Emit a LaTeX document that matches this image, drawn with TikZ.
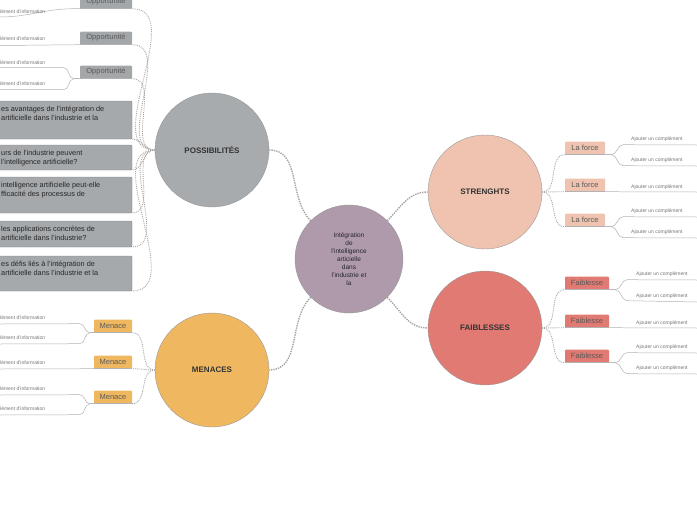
\documentclass[tikz,border=0pt]{standalone}
\usepackage{fontspec}
\setmainfont{Liberation Sans}
\begin{document}
\begin{tikzpicture}[x=1pt,y=-1pt,
 circ/.style={circle,draw=gray!80,minimum size=114pt,inner sep=0pt,font=\bfseries\fontsize{8}{9}\selectfont,text=black!80},
 tag/.style={rounded corners=1pt,inner sep=2pt,font=\fontsize{7.5}{8}\selectfont,text=black!65,minimum height=13pt},
 ajt/.style={font=\fontsize{5}{6}\selectfont,text=black!55,inner sep=1pt},
 qtxt/.style={font=\fontsize{7.3}{9}\selectfont,text=black!85,align=left,anchor=north west,inner sep=0pt},
 con/.style={draw=gray!70,densely dotted,line width=1.4pt},
 ln/.style={draw=gray!60,line width=0.5pt}]
\definecolor{cgray}{HTML}{A7ABAE}\definecolor{cmen}{HTML}{EFB860}
\definecolor{cstr}{HTML}{EFC3B0}\definecolor{cfai}{HTML}{E07A72}
\definecolor{ccen}{HTML}{AE9AAB}\definecolor{ctag}{HTML}{A3A7AA}
\definecolor{cq}{HTML}{A5A9AC}
\useasboundingbox (0,0) rectangle (697,520);
\clip (0,0) rectangle (697,520);
\node[circ,fill=ccen,minimum size=108pt,font=\fontsize{6.5}{8}\selectfont,align=center,text=black!85] (c) at (349,259) {Intégration\\de\\l'intelligence\\articielle\\dans\\l'industrie et\\la};
\node[circ,fill=cgray] (p) at (212,150) {POSSIBILITÉS};
\node[circ,fill=cmen] (m) at (212,370) {MENACES};
\node[circ,fill=cstr] (s) at (485,192) {STRENGHTS};
\node[circ,fill=cfai] (f) at (485,328) {FAIBLESSES};
\draw[con] (c.north west) to[out=135,in=0] (p.east);
\draw[con] (c.south west) to[out=225,in=0] (m.east);
\draw[con] (c.north east) to[out=45,in=180] (s.west);
\draw[con] (c.south east) to[out=-45,in=180] (f.west);
% Possibilites tags
\foreach \y/\n in {2/o1,38/o2,72/o3}{
 \node[tag,fill=ctag,minimum width=52pt] (\n) at (106,\y) {Opportunité};
 \draw[con,line width=0.9pt] (p.west) to[out=180,in=0] (\n.south east);
 \draw[ln] (\n.south east) -- (\n.south west);}
\coordinate (a1) at (0,17); \draw[ln] (o1.south west) -- ++(-6,0) to[out=180,in=0] (a1);
\node[ajt,anchor=west] at (-8,12) {mplément d'information};
\draw[ln] (o2.south west) -- (0,45.5);
\node[ajt,anchor=west] at (-8,39) {mplément d'information};
\draw[ln] (o3.south west) -- ++(-6,0) to[out=180,in=0] ++(-10,-11) -- (0,67.5);
\draw[ln] (o3.south west) -- ++(-6,0) to[out=180,in=0] ++(-10,11) -- (0,89.5);
\node[ajt,anchor=west] at (-8,63) {mplément d'information};
\node[ajt,anchor=west] at (-8,84) {mplément d'information};
% question boxes
\foreach \ya/\yb/\t/\n in {101/139/{es avantages de l'intégration de\\ artificielle dans l'industrie et la}/q1,
 145/170/{urs de l'industrie peuvent\\ l'intelligence artificielle?}/q2,
 177/213/{intelligence artificielle peut-elle\\fficacité des processus de}/q3,
 221/247/{ les applications concrètes de\\ artificielle dans l'industrie?}/q4,
 256/291/{es défis liés à l'intégration de\\ artificielle dans l'industrie et la}/q5}{
 \draw[fill=cq,draw=cq!80!black,rounded corners=1pt] (-5,\ya) rectangle (132,\yb);
 \coordinate (\n) at (132,\yb);
 \node[qtxt] at (1,\ya+5) {\t};
 \draw[con,line width=0.9pt] (p.west) to[out=180,in=0] (\n);}
% Menaces
\foreach \y/\n in {326/m1,362/m2,397/m3}{
 \node[tag,fill=cmen,minimum width=38pt] (\n) at (113,\y) {Menace};
 \draw[con,line width=0.9pt] (m.west) to[out=180,in=0] (\n.south east);
 \draw[ln] (\n.south east) -- (\n.south west);}
\draw[ln] (m1.south west) -- ++(-4,0) to[out=180,in=0] ++(-10,-9) -- (0,324);
\draw[ln] (m1.south west) -- ++(-4,0) to[out=180,in=0] ++(-10,11) -- (0,344);
\node[ajt,anchor=west] at (-8,318) {mplément d'information};
\node[ajt,anchor=west] at (-8,338) {mplément d'information};
\draw[ln] (m2.south west) -- (0,369);
\node[ajt,anchor=west] at (-8,363) {mplément d'information};
\draw[ln] (m3.south west) -- ++(-4,0) to[out=180,in=0] ++(-10,-9) -- (0,395);
\draw[ln] (m3.south west) -- ++(-4,0) to[out=180,in=0] ++(-10,11) -- (0,415);
\node[ajt,anchor=west] at (-8,389) {mplément d'information};
\node[ajt,anchor=west] at (-8,409) {mplément d'information};
% Strengths
\foreach \y/\n in {148/s1,185/s2,220/s3}{
 \node[tag,fill=cstr,minimum width=40pt] (\n) at (585,\y) {La force};
 \draw[con,line width=0.9pt] (s.east) to[out=0,in=180] (\n.south west);
 \draw[ln] (\n.south west) -- (\n.south east);}
\draw[ln] (s1.south east) -- ++(6,0) to[out=0,in=180] ++(12,-10) -- (697,145);
\draw[ln] (s1.south east) -- ++(6,0) to[out=0,in=180] ++(12,11) -- (697,166);
\node[ajt,anchor=west] at (630,139) {Ajouter un complément};
\node[ajt,anchor=west] at (630,160) {Ajouter un complément};
\draw[ln] (s2.south east) -- (697,192);
\node[ajt,anchor=west] at (630,187) {Ajouter un complément};
\draw[ln] (s3.south east) -- ++(6,0) to[out=0,in=180] ++(12,-10) -- (697,217);
\draw[ln] (s3.south east) -- ++(6,0) to[out=0,in=180] ++(12,11) -- (697,238);
\node[ajt,anchor=west] at (630,211) {Ajouter un complément};
\node[ajt,anchor=west] at (630,232) {Ajouter un complément};
% Faiblesses
\foreach \y/\n in {283/f1,321/f2,356/f3}{
 \node[tag,fill=cfai,minimum width=44pt] (\n) at (587,\y) {Faiblesse};
 \draw[con,line width=0.9pt] (f.east) to[out=0,in=180] (\n.south west);
 \draw[ln] (\n.south west) -- (\n.south east);}
\draw[ln] (f1.south east) -- ++(6,0) to[out=0,in=180] ++(12,-10) -- (697,280);
\draw[ln] (f1.south east) -- ++(6,0) to[out=0,in=180] ++(12,11) -- (697,302);
\node[ajt,anchor=west] at (635,274) {Ajouter un complément};
\node[ajt,anchor=west] at (635,296) {Ajouter un complément};
\draw[ln] (f2.south east) -- (697,328);
\node[ajt,anchor=west] at (635,323) {Ajouter un complément};
\draw[ln] (f3.south east) -- ++(6,0) to[out=0,in=180] ++(12,-10) -- (697,353);
\draw[ln] (f3.south east) -- ++(6,0) to[out=0,in=180] ++(12,11) -- (697,374);
\node[ajt,anchor=west] at (635,347) {Ajouter un complément};
\node[ajt,anchor=west] at (635,368) {Ajouter un complément};
\end{tikzpicture}
\end{document}
